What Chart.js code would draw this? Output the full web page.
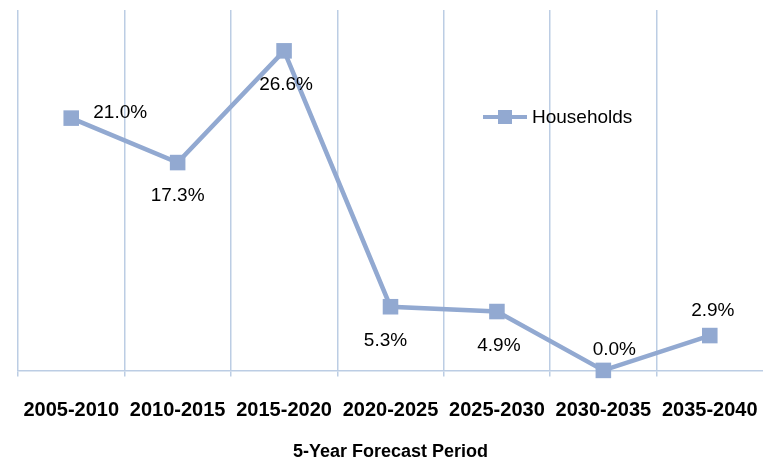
<!DOCTYPE html>
<html>
<head>
<meta charset="utf-8">
<script src="https://cdn.jsdelivr.net/npm/chart.js@4"></script>
<style>
  body { margin: 0; background: #fff; }
</style>
</head>
<body>
<canvas id="chart" width="763" height="459"></canvas>
<script>
// forecast periods and household growth (%)
const periods = ["2005-2010", "2010-2015", "2015-2020", "2020-2025", "2025-2030", "2030-2035", "2035-2040"];
const households = [21.0, 17.3, 26.6, 5.3, 4.9, 0.0, 2.9];
const seriesName = "Households";
const axisTitle = "5-Year Forecast Period";

// where each value label sits relative to its point
const labelOffsets = [[49, -5], [0, 33], [2, 34], [-5, 34], [2, 34], [11, -21], [3, -25]];

const lineColor = "#92a9d1";
const gridColor = "#bccde4";
const font = "'Liberation Sans', Arial, sans-serif";

const valueLabels = {
  id: "valueLabels",
  afterDatasetsDraw(chart) {
    const ctx = chart.ctx;
    const meta = chart.getDatasetMeta(0);
    ctx.save();
    ctx.font = "19px " + font;
    ctx.fillStyle = "#000";
    ctx.textAlign = "center";
    ctx.textBaseline = "middle";
    meta.data.forEach((pt, i) => {
      const off = labelOffsets[i];
      ctx.fillText(households[i].toFixed(1) + "%", pt.x + off[0], pt.y + off[1]);
    });
    ctx.restore();
  }
};

// legend drawn inside the plot like the original
const insideLegend = {
  id: "insideLegend",
  afterDraw(chart) {
    const ctx = chart.ctx;
    const x = 483, y = 117;
    ctx.save();
    ctx.strokeStyle = lineColor;
    ctx.lineWidth = 4;
    ctx.beginPath();
    ctx.moveTo(x, y);
    ctx.lineTo(x + 44, y);
    ctx.stroke();
    ctx.fillStyle = lineColor;
    ctx.fillRect(x + 15, y - 7, 14, 14);
    ctx.fillStyle = "#000";
    ctx.font = "19px " + font;
    ctx.textBaseline = "middle";
    ctx.fillText(seriesName, x + 49, y + 1);
    ctx.restore();
  }
};

new Chart(document.getElementById("chart"), {
  type: "line",
  data: {
    labels: periods,
    datasets: [
      {
        label: seriesName,
        data: households,
        borderColor: lineColor,
        backgroundColor: lineColor,
        borderWidth: 4.5,
        pointStyle: "rect",
        pointRadius: 11,
        pointHoverRadius: 11,
        pointBorderWidth: 0,
        tension: 0,
        fill: false,
        clip: false,
      },
    ],
  },
  options: {
    responsive: false,
    animation: false,
    layout: { autoPadding: false, padding: { left: 18, right: -2, top: 10, bottom: -4 } },
    plugins: {
      legend: { display: false },
      tooltip: { enabled: false },
    },
    scales: {
      x: {
        offset: true,
        // let the last column run off the edge like the original
        afterFit(scale) {
          scale.paddingLeft = 0;
          scale.paddingRight = 0;
        },
        grid: {
          offset: true,
          // the closing line at the right edge is cut off in the original
          color: c => (c.index === undefined ? "rgba(0,0,0,0)" : gridColor),
          lineWidth: 1.5,
          tickLength: 6,
        },
        border: { color: gridColor, width: 1.5 },
        ticks: {
          color: "#000",
          padding: 22,
          maxRotation: 0,
          font: { family: font, size: 20, weight: "bold" },
        },
        title: {
          display: true,
          text: axisTitle,
          color: "#000",
          padding: { top: -3, bottom: 0 },
          font: { family: font, size: 18, weight: "bold" },
        },
      },
      y: {
        display: false,
        min: 0,
        max: 30,
      },
    },
  },
  plugins: [valueLabels, insideLegend],
});
</script>
</body>
</html>
